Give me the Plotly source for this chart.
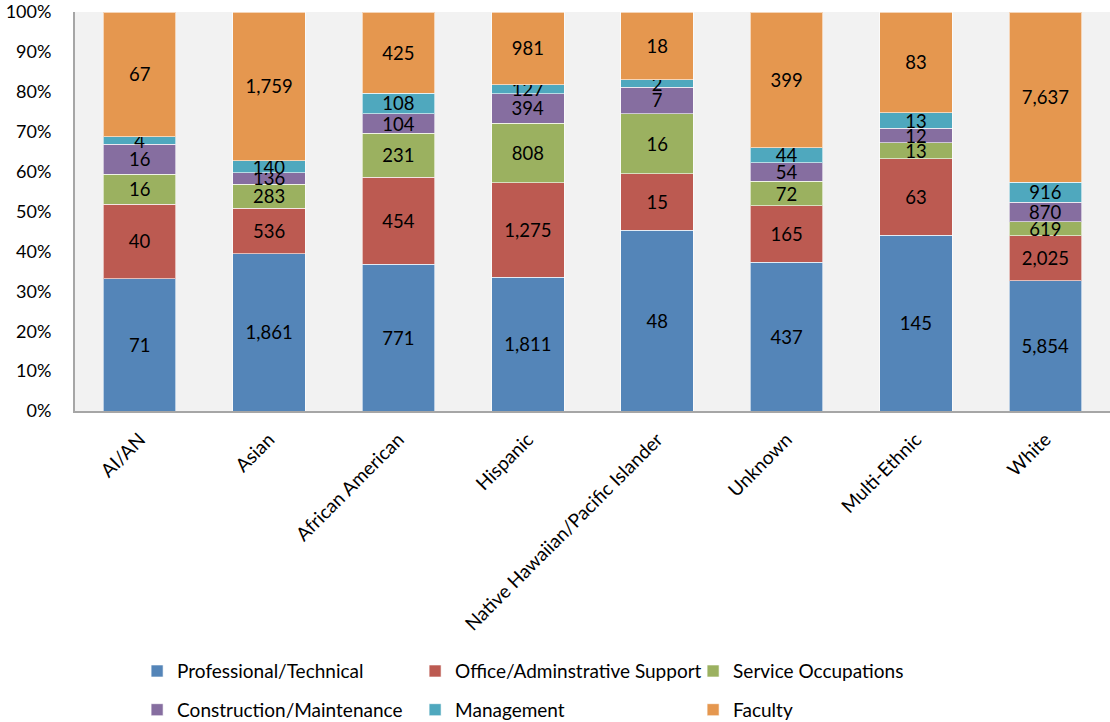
import plotly.graph_objects as go

categories = ["AI/AN", "Asian", "African American", "Hispanic",
              "Native Hawaiian/Pacific Islander", "Unknown", "Multi-Ethnic", "White"]
professional = [71, 1861, 771, 1811, 48, 437, 145, 5854]
office = [40, 536, 454, 1275, 15, 165, 63, 2025]
service = [16, 283, 231, 808, 16, 72, 13, 619]
construction = [16, 136, 104, 394, 7, 54, 12, 870]
management = [4, 140, 108, 127, 2, 44, 13, 916]
faculty = [67, 1759, 425, 981, 18, 399, 83, 7637]

series = [
    ("Professional/Technical", professional, "#5485B8", "legend"),
    ("Office/Adminstrative Support", office, "#BC5A51", "legend"),
    ("Service Occupations", service, "#9BB160", "legend"),
    ("Construction/Maintenance", construction, "#866EA0", "legend2"),
    ("Management", management, "#4FA8BE", "legend2"),
    ("Faculty", faculty, "#E5974F", "legend2"),
]

FONT = "Lato, 'Open Sans', sans-serif"
fig = go.Figure()
for name, vals, color, leg in series:
    fig.add_trace(go.Bar(
        name=name, x=categories, y=vals,
        marker=dict(color=color, line=dict(color="rgba(255,255,255,0.6)", width=1)),
        text=[f"{v:,}" for v in vals],
        textposition="inside", insidetextanchor="middle",
        constraintext="none", textangle=0,
        textfont=dict(family=FONT, size=18.5, color="black"),
        legend=leg,
        hoverinfo="skip",
    ))

legend_common = dict(
    orientation="h", xanchor="left", yanchor="middle",
    font=dict(family=FONT, size=19, color="black"),
    entrywidth=233, entrywidthmode="pixels",
    bgcolor="rgba(0,0,0,0)", traceorder="normal",
    itemclick=False,
)

fig.update_layout(
    barmode="stack", barnorm="percent",
    width=1110, height=722,
    margin=dict(l=75, r=0, t=12, b=311, autoexpand=False),
    paper_bgcolor="white", plot_bgcolor="#F2F2F2",
    bargap=0.44,
    font=dict(family=FONT, size=18, color="black"),
    showlegend=True,
    legend=dict(x=0.060, y=-0.652, **legend_common),
    legend2=dict(x=0.060, y=-0.749, **legend_common),
    xaxis=dict(
        tickangle=-45, showline=True, linecolor="#A6A6A6", linewidth=2,
        showgrid=False, ticks="", tickfont=dict(family=FONT, size=19),
        automargin=False, ticklabelstandoff=8,
    ),
    yaxis=dict(
        range=[0, 100], dtick=10, ticksuffix="%",
        showline=True, linecolor="#A6A6A6", linewidth=2,
        showgrid=False, ticks="", zeroline=False,
        tickfont=dict(family=FONT, size=18),
        automargin=False, ticklabelstandoff=18,
    ),
)

fig.write_html("out.html", config={"displayModeBar": False},
               post_script="document.body.style.margin='0px';")
